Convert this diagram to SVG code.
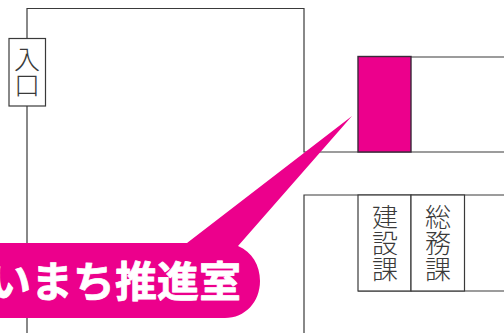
<svg xmlns="http://www.w3.org/2000/svg" width="504" height="333" viewBox="0 0 504 333">
<style>
.l{fill:none;stroke:#3a3a3a;stroke-width:1.2}
.v{font-family:"Noto Sans CJK JP","Noto Sans",sans-serif;font-size:26px;font-weight:300;fill:#3a3a3a;writing-mode:vertical-rl}
.m{fill:#ec008c}
</style>
<rect width="504" height="333" fill="#fff"/>
<g id="connectors">
<path class="l" d="M27 333V8.500H304V152H504M358 57H504M304 333V195H504M358 291H504"/>
</g>
<g id="entrance">
<rect x="9" y="38.500" width="36.500" height="67.500" fill="#fff" stroke="#3a3a3a" stroke-width="1.200"/>
<text class="v" x="27" y="46">入</text>
<text class="v" x="27" y="72">口</text>
</g>
<g id="room-magenta">
<rect class="m" x="358" y="56.500" width="53" height="95.500" stroke="#3a2a3a" stroke-width="1.400"/>
</g>
<g id="kensetsu">
<rect x="358" y="195" width="53" height="96" fill="#fff" stroke="#3a3a3a" stroke-width="1.200"/>
<text class="v" x="385" y="204">建</text>
<text class="v" x="385" y="230">設</text>
<text class="v" x="385" y="256">課</text>
</g>
<g id="somu">
<rect x="411" y="195" width="53.500" height="96" fill="#fff" stroke="#3a3a3a" stroke-width="1.200"/>
<text class="v" x="438" y="204">総</text>
<text class="v" x="438" y="230">務</text>
<text class="v" x="438" y="256">課</text>
</g>
<g id="callout">
<path class="m" d="M0 243H187L352 116L238 246C252 252 260 265 260 281C260 302 245 318 225 318H0Z"/>
<text x="241" y="297" text-anchor="end" font-family="'Noto Sans CJK JP',sans-serif" font-size="42" font-weight="700" fill="#fff" stroke="#fff" stroke-width="0.800" stroke-linejoin="round">いまち推進室</text>
</g>
</svg>
